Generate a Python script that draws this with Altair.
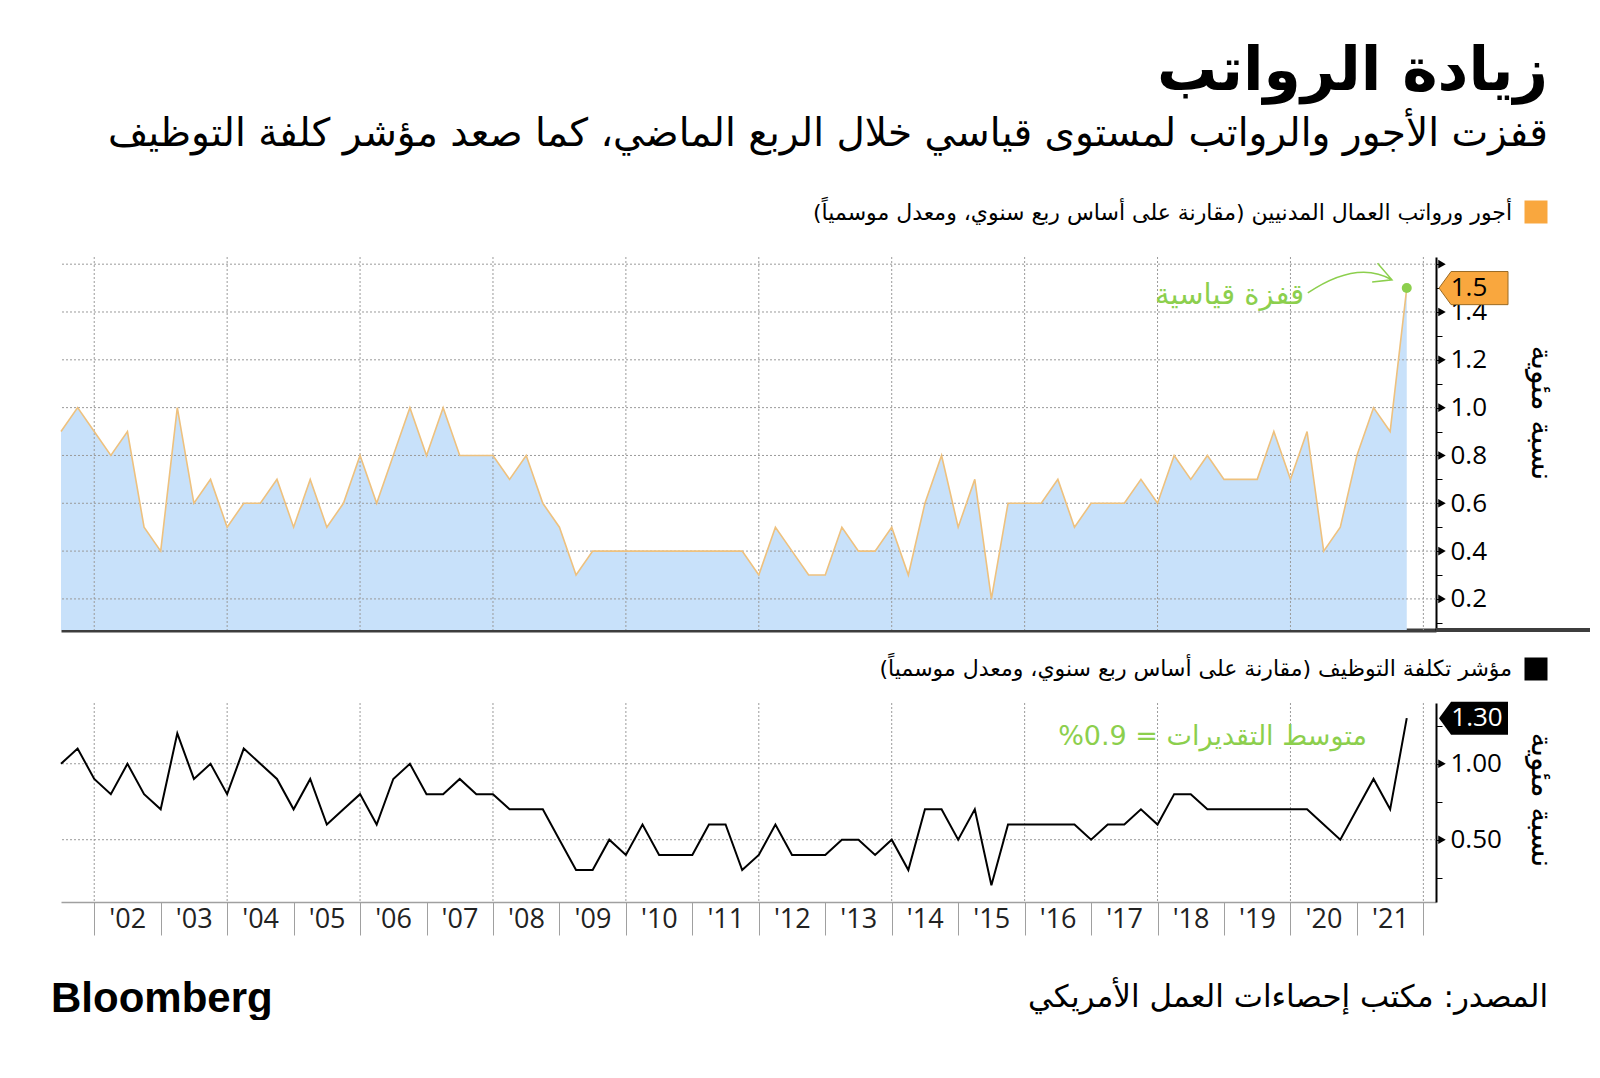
import altair as alt
import pandas as pd

# ---------------- data (quarterly, Q2 2001 .. Q3 2021) ----------------
start_year, start_quarter = 2001, 2
wages = [0.9, 1.0, 0.9,
         0.8, 0.9, 0.5, 0.4,
         1.0, 0.6, 0.7, 0.5,
         0.6, 0.6, 0.7, 0.5,
         0.7, 0.5, 0.6, 0.8,
         0.6, 0.8, 1.0, 0.8,
         1.0, 0.8, 0.8, 0.8,
         0.7, 0.8, 0.6, 0.5,
         0.3, 0.4, 0.4, 0.4,
         0.4, 0.4, 0.4, 0.4,
         0.4, 0.4, 0.4, 0.3,
         0.5, 0.4, 0.3, 0.3,
         0.5, 0.4, 0.4, 0.5,
         0.3, 0.6, 0.8, 0.5,
         0.7, 0.2, 0.6, 0.6,
         0.6, 0.7, 0.5, 0.6,
         0.6, 0.6, 0.7, 0.6,
         0.8, 0.7, 0.8, 0.7,
         0.7, 0.7, 0.9, 0.7,
         0.9, 0.4, 0.5, 0.8,
         1.0, 0.9, 1.5]
eci = [1.0, 1.1, 0.9,
       0.8, 1.0, 0.8, 0.7,
       1.2, 0.9, 1.0, 0.8,
       1.1, 1.0, 0.9, 0.7,
       0.9, 0.6, 0.7, 0.8,
       0.6, 0.9, 1.0, 0.8,
       0.8, 0.9, 0.8, 0.8,
       0.7, 0.7, 0.7, 0.5,
       0.3, 0.3, 0.5, 0.4,
       0.6, 0.4, 0.4, 0.4,
       0.6, 0.6, 0.3, 0.4,
       0.6, 0.4, 0.4, 0.4,
       0.5, 0.5, 0.4, 0.5,
       0.3, 0.7, 0.7, 0.5,
       0.7, 0.2, 0.6, 0.6,
       0.6, 0.6, 0.6, 0.5,
       0.6, 0.6, 0.7, 0.6,
       0.8, 0.8, 0.7, 0.7,
       0.7, 0.7, 0.7, 0.7,
       0.7, 0.6, 0.5, 0.7,
       0.9, 0.7, 1.3]

year_ticks = list(range(2002, 2023))
grid_years = list(range(2002, 2023, 2))
top_ticks = [0.1, 0.2, 0.3, 0.4, 0.5, 0.6, 0.7, 0.8, 0.9, 1.0, 1.1, 1.2, 1.3, 1.4, 1.5, 1.6]
top_major = [0.2, 0.4, 0.6, 0.8, 1.0, 1.2, 1.4, 1.6]
top_labels = [0.2, 0.4, 0.6, 0.8, 1.0, 1.2, 1.4]
bot_ticks = [0.25, 0.5, 0.75, 1.0, 1.25]
bot_major = [0.5, 1.0]

RLE, PDF = "\u202b", "\u202c"
def rtl(s):
    return RLE + s + PDF

title_txt = "زيادة الرواتب"
subtitle_txt = "قفزت الأجور والرواتب لمستوى قياسي خلال الربع الماضي، كما صعد مؤشر كلفة التوظيف"
legend1_txt = "أجور ورواتب العمال المدنيين (مقارنة على أساس ربع سنوي، ومعدل موسمياً)"
legend2_txt = "مؤشر تكلفة التوظيف (مقارنة على أساس ربع سنوي، ومعدل موسمياً)"
yunit_txt = "نسبة مئوية"
note1_txt = "قفزة قياسية"
note2_txt = "متوسط التقديرات = 0.9%"
source_txt = "المصدر: مكتب إحصاءات العمل الأمريكي"
brand_txt = "Bloomberg"

# ---------------- styling ----------------
W, H1, H2 = 1375, 373, 199
AR_FONT = "DejaVu Sans"
NUM_FONT = "Open Sans"
BLUE = "#c8e1fa"
TAN = "#eec17e"
ORANGE = "#f9a73e"
GREEN = "#8ccf4d"
GRID = "#9a9a9a"

t = [start_year + (start_quarter + i) / 4 for i in range(len(wages))]
df = pd.DataFrame({"t": t, "wages": wages, "eci": eci})
last = df.tail(1)

xs = alt.Scale(domain=[2001.5, 2022.19], nice=False, zero=False)
ys1 = alt.Scale(domain=[0.07, 1.63], nice=False, zero=False)
ys2 = alt.Scale(domain=[0.09, 1.40], nice=False, zero=False)

box_path = "M-1,0L-0.65,-0.48L1,-0.48L1,0.48L-0.65,0.48Z"
arrow_path = "M-0.96,0.22Q0.14,-0.52 0.91,-0.07M0.59,-0.44L0.91,-0.07L0.47,-0.02"


def txt(s, x, y, size, color="black", align="right", weight="normal", font=AR_FONT, angle=0):
    kw = dict(fontSize=size, color=color, align=align, baseline="middle",
              fontWeight=weight, font=font)
    if angle:
        kw["angle"] = angle
    return alt.Chart(pd.DataFrame({"s": [s]})).mark_text(**kw).encode(
        text="s:N", x=alt.value(x), y=alt.value(y))


def right_axis(values, labels, fmt):
    lab = "[" + ", ".join(repr(v) for v in labels) + "]"
    return alt.Axis(orient="right", values=values, grid=False, title=None,
                    labelExpr="indexof(" + lab + ", datum.value) >= 0 ? format(datum.value, '" + fmt + "') : ''",
                    tickSize=6, tickColor="black", domainColor="black", domainWidth=2,
                    labelFont=NUM_FONT, labelFontSize=26, labelColor="black", labelPadding=8,
                    labelOverlap=False, labelFlush=False, labelBound=False)


# ---------------- top panel ----------------
ax_xt = alt.Axis(labels=False, ticks=False, grid=False, title=None,
                 domainColor="#3d3d3d", domainWidth=4)
ax_yt = right_axis(top_ticks, top_labels, ".1f")
def XT(f):
    return alt.X(f, scale=xs, axis=ax_xt)
def YT(f):
    return alt.Y(f, scale=ys1, axis=ax_yt)

area = alt.Chart(df).mark_area(color=BLUE, opacity=1, clip=True).encode(
    x=XT("t:Q"), y=YT("wages:Q"))
hgrid1 = alt.Chart(pd.DataFrame({"v": top_major})).mark_rule(
    color=GRID, strokeDash=[2, 2], strokeWidth=1).encode(y=YT("v:Q"))
vgrid1 = alt.Chart(pd.DataFrame({"g": grid_years})).mark_rule(
    color=GRID, strokeDash=[2, 2], strokeWidth=1).encode(x=XT("g:Q"))
line1 = alt.Chart(df).mark_line(color=TAN, strokeWidth=1.6).encode(
    x=XT("t:Q"), y=YT("wages:Q"))
dot1 = alt.Chart(last).mark_circle(color=GREEN, size=100, opacity=1).encode(
    x=XT("t:Q"), y=YT("wages:Q"))
tri1 = alt.Chart(pd.DataFrame({"v": top_major})).mark_point(
    shape="triangle-right", filled=True, color="black", size=75, opacity=1).encode(
    y=YT("v:Q"), x=alt.value(W + 6))
box1 = alt.Chart(last).mark_point(shape=box_path, filled=True, fill=ORANGE, stroke="#9a6a25",
                                  strokeWidth=1, size=4761, opacity=1).encode(
    y=YT("wages:Q"), x=alt.value(W + 37.5))
boxt1 = alt.Chart(last).mark_text(font=NUM_FONT, fontSize=26, color="black", align="center",
                                  baseline="middle").encode(
    y=YT("wages:Q"), x=alt.value(W + 33),
    text=alt.Text("wages:Q", format=".1f"))
arrow1 = alt.Chart(pd.DataFrame({"a": [0]})).mark_point(
    shape=arrow_path, filled=False, stroke=GREEN, strokeWidth=1.5, size=8100, opacity=1).encode(
    x=alt.value(1290), y=alt.value(26))
anchor = alt.Chart(pd.DataFrame({"a": [0]})).mark_rule(color="white", opacity=0, strokeWidth=1).encode(
    x=alt.value(0), x2=alt.value(2), y=alt.value(-248.5))

top = alt.layer(
    area, hgrid1, vgrid1, line1, dot1, tri1, box1, boxt1, arrow1, anchor,
    txt(rtl(note1_txt), 1243, 38, 29, color=GREEN),
    txt(rtl(title_txt), 1487, -185, 60, weight="bold"),
    txt(rtl(subtitle_txt), 1487, -123, 39),
    alt.Chart(pd.DataFrame({"a": [0]})).mark_square(color=ORANGE, size=529, opacity=1).encode(
        x=alt.value(1475), y=alt.value(-45)),
    txt(rtl(legend1_txt), 1451, -44, 22),
    txt(rtl(yunit_txt), 1480, 156, 30, angle=90, align="center"),
    alt.Chart(pd.DataFrame({"a": [0]})).mark_rule(color="#3d3d3d", strokeWidth=4).encode(
        x=alt.value(W), x2=alt.value(1529), y=alt.value(H1)),
).properties(width=W, height=H1)

# ---------------- bottom panel ----------------
ax_xb = alt.Axis(
    values=year_ticks, title=None, grid=False, tickSize=33, tickColor="#a0a0a0",
    domainColor="#a0a0a0", domainWidth=1.5,
    labelExpr="datum.value < 2022 ? \"'\" + substring(toString(datum.value), 2, 4) : ''",
    labelOffset=33, labelPadding=-29, labelFont=NUM_FONT, labelFontSize=27, labelColor="#222",
    labelOverlap=False, labelFlush=False, labelBound=False)
ax_yb = right_axis(bot_ticks, bot_major, ".2f")
def XB(f):
    return alt.X(f, scale=xs, axis=ax_xb)
def YB(f):
    return alt.Y(f, scale=ys2, axis=ax_yb)

hgrid2 = alt.Chart(pd.DataFrame({"v": bot_major})).mark_rule(
    color=GRID, strokeDash=[2, 2], strokeWidth=1).encode(y=YB("v:Q"))
vgrid2 = alt.Chart(pd.DataFrame({"g": grid_years})).mark_rule(
    color=GRID, strokeDash=[2, 2], strokeWidth=1).encode(x=XB("g:Q"))
line2 = alt.Chart(df).mark_line(color="black", strokeWidth=2).encode(
    x=XB("t:Q"), y=YB("eci:Q"))
tri2 = alt.Chart(pd.DataFrame({"v": bot_major})).mark_point(
    shape="triangle-right", filled=True, color="black", size=75, opacity=1).encode(
    y=YB("v:Q"), x=alt.value(W + 6))
box2 = alt.Chart(last).mark_point(shape=box_path, filled=True, fill="black", strokeWidth=0,
                                  size=4761, opacity=1).encode(
    y=YB("eci:Q"), x=alt.value(W + 37.5))
boxt2 = alt.Chart(last).mark_text(font=NUM_FONT, fontSize=26, color="white", align="center",
                                  baseline="middle").encode(
    y=YB("eci:Q"), x=alt.value(W + 41),
    text=alt.Text("eci:Q", format=".2f"))

bottom = alt.layer(
    hgrid2, vgrid2, line2, tri2, box2, boxt2,
    txt(rtl(note2_txt), 1306, 34, 27, color=GREEN),
    alt.Chart(pd.DataFrame({"a": [0]})).mark_square(color="black", size=529, opacity=1).encode(
        x=alt.value(1475), y=alt.value(-34)),
    txt(rtl(legend2_txt), 1451, -34, 22),
    txt(rtl(yunit_txt), 1480, 97, 30, angle=90, align="center"),
    txt(brand_txt, -10, 296, 42, weight="bold", align="left", font="Liberation Sans"),
    txt(rtl(source_txt), 1487, 295, 31),
).properties(width=W, height=H2)

chart = alt.vconcat(top, bottom, spacing=73, bounds="flush").resolve_scale(
    x="independent", y="independent"
).properties(
    padding={"left": 43, "top": 0, "right": 0, "bottom": 0},
    background="white",
).configure_view(stroke=None, strokeWidth=0)

chart.save("out.html", embed_options={"renderer": "svg", "actions": False})
